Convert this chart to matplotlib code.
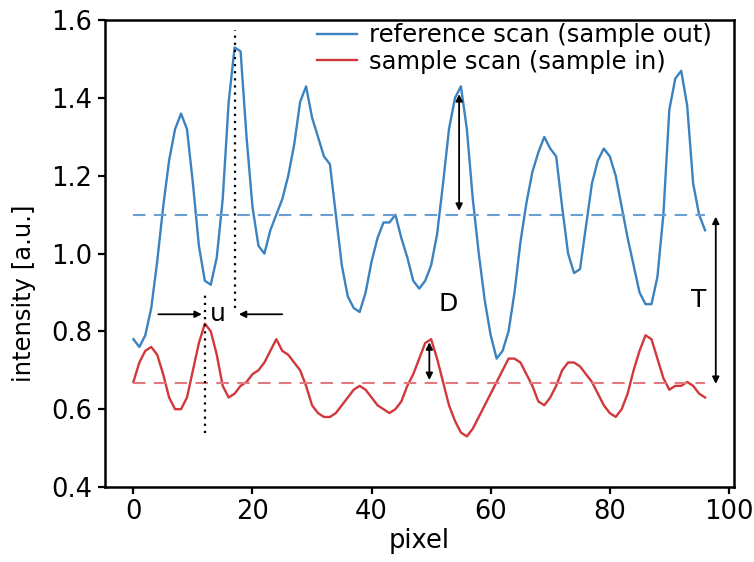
import matplotlib
matplotlib.use("Agg")
import matplotlib.pyplot as plt
import numpy as np

plt.rcParams['font.family'] = ['DejaVu Sans']

pixel = list(range(97))
reference_scan = [
    0.78, 0.76, 0.79, 0.86, 0.98, 1.12, 1.24, 1.32, 1.36, 1.32,
    1.18, 1.02, 0.93, 0.92, 0.99, 1.14, 1.39, 1.53, 1.52, 1.30,
    1.12, 1.02, 1.00, 1.06, 1.10, 1.14, 1.20, 1.28, 1.39, 1.43,
    1.35, 1.30, 1.25, 1.23, 1.10, 0.97, 0.89, 0.86, 0.85, 0.90,
    0.98, 1.04, 1.08, 1.08, 1.10, 1.04, 0.99, 0.93, 0.91, 0.93,
    0.97, 1.05, 1.18, 1.32, 1.40, 1.43, 1.32, 1.14, 1.00, 0.88,
    0.79, 0.73, 0.75, 0.80, 0.90, 1.03, 1.13, 1.21, 1.26, 1.30,
    1.27, 1.25, 1.12, 1.00, 0.95, 0.96, 1.07, 1.18, 1.24, 1.27,
    1.25, 1.20, 1.12, 1.04, 0.97, 0.90, 0.87, 0.87, 0.94, 1.10,
    1.37, 1.45, 1.47, 1.38, 1.18, 1.10, 1.06,
]
sample_scan = [
    0.67, 0.72, 0.75, 0.76, 0.74, 0.69, 0.63, 0.60, 0.60, 0.63,
    0.70, 0.77, 0.82, 0.80, 0.74, 0.66, 0.63, 0.64, 0.66, 0.67,
    0.69, 0.70, 0.72, 0.75, 0.78, 0.75, 0.74, 0.72, 0.70, 0.66,
    0.61, 0.59, 0.58, 0.58, 0.59, 0.61, 0.63, 0.65, 0.66, 0.65,
    0.63, 0.61, 0.60, 0.59, 0.60, 0.62, 0.66, 0.69, 0.73, 0.77,
    0.78, 0.73, 0.67, 0.61, 0.57, 0.54, 0.53, 0.55, 0.58, 0.61,
    0.64, 0.67, 0.70, 0.73, 0.73, 0.72, 0.69, 0.66, 0.62, 0.61,
    0.63, 0.66, 0.70, 0.72, 0.72, 0.71, 0.69, 0.67, 0.64, 0.61,
    0.59, 0.58, 0.60, 0.64, 0.70, 0.75, 0.79, 0.78, 0.73, 0.68,
    0.65, 0.66, 0.66, 0.67, 0.66, 0.64, 0.63,
]
ref_mean = 1.10
sample_mean = 0.667

blue = '#3a83c0'
red = '#d2373c'

fig = plt.figure(figsize=(7.54, 5.62), dpi=100)
ax = fig.add_axes([0.139, 0.1335, 0.834, 0.8305])

ax.plot(pixel, reference_scan, color=blue, lw=1.7, label='reference scan (sample out)')
ax.plot(pixel, sample_scan, color=red, lw=1.7, label='sample scan (sample in)')
ax.plot([pixel[0], pixel[-1]], [ref_mean, ref_mean], color='#6a9fd2', lw=1.5, ls=(0, (6, 4)))
ax.plot([pixel[0], pixel[-1]], [sample_mean, sample_mean], color='#e07a80', lw=1.5, ls=(0, (6, 4)))

# dotted guide lines
ax.plot([17, 17], [0.86, 1.575], color='black', lw=1.6, ls=(0, (1, 2.2)))
ax.plot([12, 12], [0.54, 0.90], color='black', lw=1.6, ls=(0, (1, 2.2)))

ap = dict(arrowstyle='-|>', color='black', lw=1.3, mutation_scale=10, shrinkA=0, shrinkB=0)
ax.annotate('', xy=(11.5, 0.844), xytext=(4.2, 0.844), arrowprops=ap)
ax.annotate('', xy=(17.7, 0.844), xytext=(25, 0.844), arrowprops=ap)
ax.text(14.2, 0.844, 'u', fontsize=18, ha='center', va='center')

ap2 = dict(arrowstyle='<|-|>', color='black', lw=1.3, mutation_scale=10, shrinkA=0, shrinkB=0)
ax.annotate('', xy=(54.7, 1.41), xytext=(54.7, 1.11), arrowprops=ap2)
ax.annotate('', xy=(49.7, 0.772), xytext=(49.7, 0.675), arrowprops=ap2)
ax.text(52.8, 0.87, 'D', fontsize=18, ha='center', va='center')

ax.annotate('', xy=(97.8, 1.095), xytext=(97.8, 0.665), arrowprops=ap2)
ax.text(95.0, 0.88, 'T', fontsize=18, ha='center', va='center')

ax.set_xlim(-4.8, 100.8)
ax.set_ylim(0.4, 1.6)
ax.set_xticks([0, 20, 40, 60, 80, 100])
ax.set_yticks([0.4, 0.6, 0.8, 1.0, 1.2, 1.4, 1.6])
ax.set_yticklabels(['0.4', '0.6', '0.8', '1.0', '1.2', '1.4', '1.6'])
ax.tick_params(labelsize=18.5, width=1.6, length=5, direction='out', pad=4)
for s in ax.spines.values():
    s.set_linewidth(1.8)
ax.set_xlabel('pixel', fontsize=18.5, labelpad=2)
ax.set_ylabel('intensity [a.u.]', fontsize=17.5)
ax.yaxis.set_label_coords(-0.11, 0.415)

leg = ax.legend(loc='upper right', bbox_to_anchor=(0.965, 0.993), frameon=False,
                fontsize=17.5, handlelength=1.65, handletextpad=0.5,
                borderaxespad=0, borderpad=0, labelspacing=0.1)

fig.savefig('out.png', dpi=100)
